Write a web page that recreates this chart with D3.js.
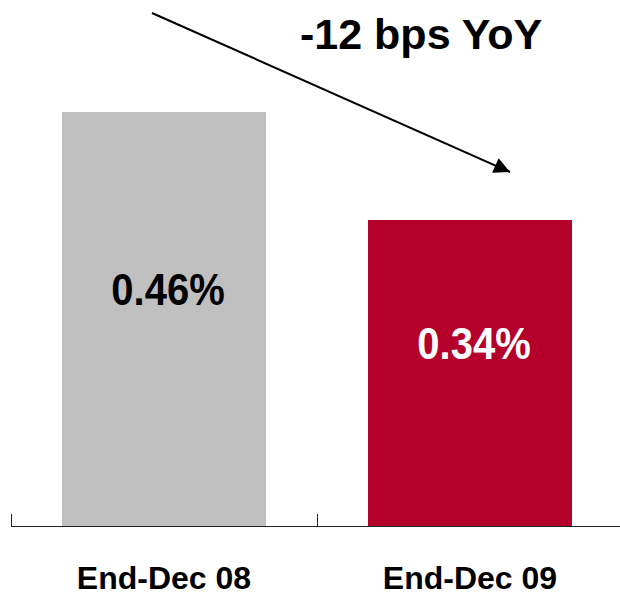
<!DOCTYPE html>
<html lang="en">
<head>
  <meta charset="UTF-8">
  <title>YoY change</title>
<style>
  html, body { margin: 0; padding: 0; background: #fff; }
  svg { display: block; }
  text { font-family: "Liberation Sans", Arial, sans-serif; font-weight: bold; }
</style>
</head>
<body>

<svg id="chart" width="620" height="595"></svg>

<script src="https://d3js.org/d3.v7.min.js"></script>

<script>

var categories = ["End-Dec 08", "End-Dec 09"],
  values = [0.46, 0.34],
  valueLabels = ["0.46%", "0.34%"],
  barColors = ["#c0c0c0", "#b4002b"],
  labelColors = ["#000", "#fff"],
  note = "-12 bps YoY";

var svg = d3.select("#chart"),
  width = +svg.attr("width"),
  height = +svg.attr("height"),
  baseY = 526;

var x = d3.scaleBand()
    .domain(categories)
    .range([11, 623])
    .paddingInner(1/3)
    .paddingOuter(1/6);

var y = d3.scaleLinear()
    .domain([0, 0.46])
    .range([baseY, 112]);

// bars
svg.selectAll("rect.bar")
  .data(values)
  .enter().append("rect")
    .attr("class", "bar")
    .attr("x", function (d, i) { return x(categories[i]); })
    .attr("y", function (d) { return y(d); })
    .attr("width", x.bandwidth())
    .attr("height", function (d) { return y(0) - y(d); })
    .attr("fill", function (d, i) { return barColors[i]; });

// value labels inside bars (text is a bit tall in the original)
svg.selectAll("text.val")
  .data(values)
  .enter().append("text")
    .attr("class", "val")
    .attr("transform", function (d, i) {
      var cx = x(categories[i]) + x.bandwidth() / 2 + 4,
        cy = (y(d) + y(0)) / 2 - 14;
      return "translate(" + cx + "," + cy + ") scale(1,1.12)";
    })
    .attr("text-anchor", "middle")
    .attr("font-size", 40)
    .attr("fill", function (d, i) { return labelColors[i]; })
    .text(function (d, i) { return valueLabels[i]; });

// axis line with ticks at category boundaries
var edges = categories.map(function (c) { return x(c) - x.step() / 6; });
edges.push(x(categories[categories.length - 1]) + x.bandwidth() + x.step() / 6);

svg.append("line")
    .attr("x1", edges[0]).attr("x2", width)
    .attr("y1", baseY + 0.5).attr("y2", baseY + 0.5)
    .attr("stroke", "#222").attr("stroke-width", 1);

svg.selectAll("line.tick")
  .data(edges)
  .enter().append("line")
    .attr("class", "tick")
    .attr("x1", function (d) { return Math.round(d) + 0.5; })
    .attr("x2", function (d) { return Math.round(d) + 0.5; })
    .attr("y1", baseY - 12)
    .attr("y2", baseY)
    .attr("stroke", "#222");

// category labels
svg.selectAll("text.cat")
  .data(categories)
  .enter().append("text")
    .attr("class", "cat")
    .attr("x", function (d) { return x(d) + x.bandwidth() / 2; })
    .attr("y", 589)
    .attr("text-anchor", "middle")
    .attr("font-size", 32)
    .attr("fill", "#000")
    .text(function (d) { return d; });

// arrow and annotation
svg.append("defs").append("marker")
    .attr("id", "head")
    .attr("viewBox", "0 0 10 10")
    .attr("refX", 10).attr("refY", 5)
    .attr("markerWidth", 20).attr("markerHeight", 16)
    .attr("markerUnits", "userSpaceOnUse")
    .attr("orient", "auto")
  .append("path")
    .attr("d", "M0,0L10,5L0,10Z")
    .attr("fill", "#000");

svg.append("line")
    .attr("x1", 152).attr("y1", 13)
    .attr("x2", 510).attr("y2", 172)
    .attr("stroke", "#000")
    .attr("stroke-width", 2)
    .attr("marker-end", "url(#head)");

svg.append("text")
    .attr("x", 300)
    .attr("y", 49)
    .attr("font-size", 43)
    .attr("fill", "#000")
    .text(note);

</script>

</body>
</html>
